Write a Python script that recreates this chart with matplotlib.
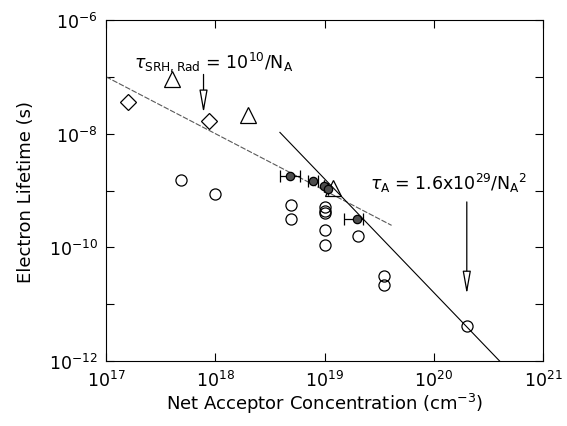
import numpy as np
import matplotlib
matplotlib.use("Agg")
from matplotlib import pyplot as plt

plt.rcParams['font.family'] = ['DejaVu Sans']
plt.rcParams['mathtext.fontset'] = 'custom'
plt.rcParams['mathtext.rm'] = 'DejaVu Sans'
plt.rcParams['mathtext.it'] = 'DejaVu Sans:italic'
plt.rcParams['mathtext.default'] = 'regular'

# open diamonds
diam_N = [1.6e17, 8.8e17]
diam_tau = [3.6e-8, 1.7e-8]

# open triangles
tri_N = [4.0e17, 2.0e18, 1.2e19]
tri_tau = [9.1e-8, 2.1e-8, 1.1e-9]

# open circles
circ_N = [4.9e17, 1.0e18, 4.9e18, 4.9e18, 1.0e19, 1.0e19, 1.0e19, 1.0e19, 1.0e19,
          2.0e19, 3.5e19, 3.5e19, 2.0e20]
circ_tau = [1.5e-9, 8.7e-10, 5.6e-10, 3.1e-10, 5.2e-10, 4.4e-10, 4.0e-10, 2.0e-10,
            1.1e-10, 1.6e-10, 3.1e-11, 2.2e-11, 4.1e-12]

# hatched circles with horizontal error bars
hat_N = [4.8e18, 7.8e18, 9.9e18, 1.08e19, 1.97e19]
hat_tau = [1.78e-9, 1.45e-9, 1.2e-9, 1.08e-9, 3.2e-10]
hat_xlo = [0.9e18, 0.8e18, 0.0, 0.0, 0.45e19]
hat_xhi = [1.1e18, 0.9e18, 0.0, 0.0, 0.29e19]

# model lines
srh_N = np.array([1e17, 4.1e19])
srh_tau = 1e10 / srh_N
aug_N = np.array([3.9e18, 4.2e20])
aug_tau = 1.6e29 / aug_N**2

fig = plt.figure(figsize=(5.67, 4.27), dpi=100)
ax = fig.add_axes([0.187, 0.152, 0.771, 0.799])

ax.plot(srh_N, srh_tau, color='0.35', lw=0.8, dashes=(5, 1.5))
ax.plot(aug_N, aug_tau, color='black', lw=0.8)

ax.plot(diam_N, diam_tau, 'D', ms=8, mfc='none', mec='black', mew=0.9)
ax.plot(tri_N, tri_tau, '^', ms=11, mfc='none', mec='black', mew=0.9)
ax.plot(circ_N, circ_tau, 'o', ms=8, mfc='none', mec='black', mew=0.9)
ax.errorbar(hat_N, hat_tau, xerr=[hat_xlo, hat_xhi], fmt='o', ms=6,
            mfc='0.3', mec='black', mew=0.9, ecolor='black', elinewidth=0.9,
            capsize=4, capthick=0.9)

ax.set_xscale('log')
ax.set_yscale('log')
ax.set_xlim(1e17, 1e21)
ax.set_ylim(1e-12, 1e-6)
ax.set_xticks([1e17, 1e18, 1e19, 1e20, 1e21])
ax.set_yticks([1e-12, 1e-11, 1e-10, 1e-9, 1e-8, 1e-7, 1e-6])
ax.set_yticklabels(['$10^{-12}$', '', '$10^{-10}$', '', '$10^{-8}$', '', '$10^{-6}$'])
ax.minorticks_off()
ax.tick_params(which='both', direction='in', top=True, right=True,
               labelsize=12.5, length=6, width=0.8)
ax.tick_params(axis='x', pad=6)
ax.tick_params(axis='y', pad=6)
for s in ax.spines.values():
    s.set_linewidth(0.8)

ax.set_xlabel('Net Acceptor Concentration (cm$^{-3}$)', fontsize=13, labelpad=1)
ax.set_ylabel('Electron Lifetime (s)', fontsize=13, labelpad=10)

# arrows and labels
arr1_N, arr1_tail, arr1_tip = 7.8e17, 1.1e-7, 2.3e-8
arr2_N, arr2_tail, arr2_tip = 2.0e20, 6.3e-10, 1.5e-11
ap = dict(arrowstyle='-|>,head_length=1.4,head_width=0.25', fc='white',
          ec='black', lw=0.9, shrinkA=0, shrinkB=0)
ax.annotate('', xy=(arr1_N, arr1_tip), xytext=(arr1_N, arr1_tail), arrowprops=ap)
ax.annotate('', xy=(arr2_N, arr2_tip), xytext=(arr2_N, arr2_tail), arrowprops=ap)

ax.text(1.8e17, 1.9e-7, r'$\mathit{\tau}_{SRH,Rad}$ = 10$^{10}$/N$_A$', fontsize=12.5,
        va='center', ha='left')
ax.text(2.6e19, 1.4e-9, r'$\mathit{\tau}_A$ = 1.6x10$^{29}$/N$_A$$^2$', fontsize=12.5,
        va='center', ha='left')

fig.savefig('out.png', dpi=100)
plt.close(fig)
